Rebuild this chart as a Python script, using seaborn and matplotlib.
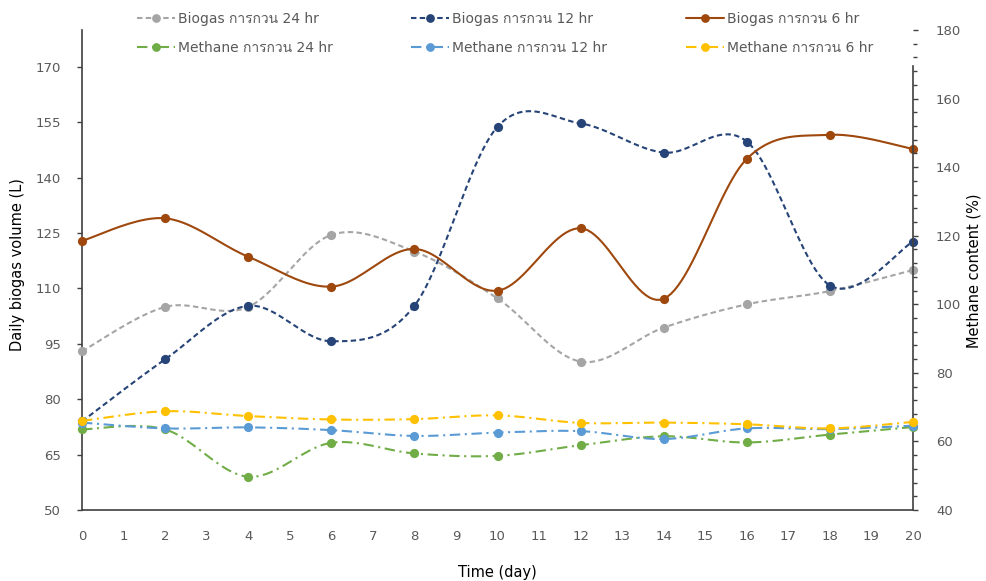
import numpy as np
import matplotlib
matplotlib.use("Agg")
import matplotlib.pyplot as plt
import seaborn as sns
from matplotlib import font_manager
from matplotlib.ft2font import FT2Font
from matplotlib.lines import Line2D
from matplotlib.ticker import MultipleLocator

# ---- data -------------------------------------------------------------
days = [0, 2, 4, 6, 8, 10, 12, 14, 16, 18, 20]

biogas_24 = [93.0, 105.0, 105.0, 124.5, 120.0, 107.3, 90.2, 99.4, 105.7, 109.3, 115.0]
biogas_12 = [74.0, 90.8, 105.3, 95.7, 105.3, 153.8, 154.7, 146.8, 149.8, 110.8, 122.7]
biogas_6 = [122.9, 129.0, 118.6, 110.5, 120.7, 109.4, 126.3, 107.2, 145.1, 151.6, 147.8]

methane_24 = [63.5, 63.5, 49.7, 59.6, 56.5, 55.8, 58.9, 61.5, 59.7, 62.0, 64.2]
methane_12 = [65.5, 63.8, 64.1, 63.3, 61.6, 62.6, 63.0, 60.7, 63.8, 63.6, 64.6]
methane_6 = [66.0, 68.8, 67.4, 66.4, 66.5, 67.6, 65.4, 65.5, 65.0, 63.8, 65.7]

labels_biogas = ["Biogas การกวน 24 hr", "Biogas การกวน 12 hr", "Biogas การกวน 6 hr"]
labels_methane = ["Methane การกวน 24 hr", "Methane การกวน 12 hr", "Methane การกวน 6 hr"]

left_ticks = [50, 65, 80, 95, 110, 125, 140, 155, 170]
x_ticks = list(range(0, 21))


# ---- helpers ------------------------------------------------------------
def families_with(ch):
    """Installed font families that contain a glyph for ch."""
    found = []
    for f in font_manager.fontManager.ttflist:
        try:
            if ord(ch) in FT2Font(f.fname).get_charmap():
                if f.name not in found:
                    found.append(f.name)
        except Exception:
            pass
    return found


def smooth(x, y, n=24):
    """Smoothed Bezier path through the points (Catmull-Rom style tangents)."""
    x = np.asarray(x, float)
    y = np.asarray(y, float)
    px = np.concatenate([[x[0]], x, [x[-1]]])
    py = np.concatenate([[y[0]], y, [y[-1]]])
    t = np.linspace(0.0, 1.0, n)
    xs, ys = [], []
    for i in range(len(x) - 1):
        j = i + 1
        x0, y0 = px[j], py[j]
        x3, y3 = px[j + 1], py[j + 1]
        x1 = x0 + (px[j + 1] - px[j - 1]) / 6.0
        y1 = y0 + (py[j + 1] - py[j - 1]) / 6.0
        x2 = x3 - (px[j + 2] - px[j]) / 6.0
        y2 = y3 - (py[j + 2] - py[j]) / 6.0
        b0, b1, b2, b3 = (1 - t) ** 3, 3 * (1 - t) ** 2 * t, 3 * (1 - t) * t ** 2, t ** 3
        seg_x = b0 * x0 + b1 * x1 + b2 * x2 + b3 * x3
        seg_y = b0 * y0 + b1 * y1 + b2 * y2 + b3 * y3
        if i > 0:
            seg_x, seg_y = seg_x[1:], seg_y[1:]
        xs.append(seg_x)
        ys.append(seg_y)
    return np.concatenate(xs), np.concatenate(ys)


# ---- style -------------------------------------------------------------
sns.set_style("white")
thai_fams = [f for f in families_with("ก") if f != "DejaVu Sans"]
plt.rcParams["font.family"] = ["DejaVu Sans"] + thai_fams[:1]

W, H = 987, 581
fig = plt.figure(figsize=(W / 100, H / 100), dpi=100)
fig.patch.set_facecolor("white")
ax = fig.add_axes([82 / W, 1 - 510 / H, 831 / W, 480 / H])
ax2 = ax.twinx()

lw = 1.5
dash_short = (0, (2.6, 1.6))
dash_dot = (0, (5.0, 2.2, 1.0, 2.2))

series = [
    (labels_biogas[0], biogas_24, ax, "#A5A5A5", dash_short),
    (labels_biogas[1], biogas_12, ax, "#264478", dash_short),
    (labels_biogas[2], biogas_6, ax, "#9E480E", "-"),
    (labels_methane[0], methane_24, ax2, "#70AD47", dash_dot),
    (labels_methane[1], methane_12, ax2, "#5B9BD5", dash_dot),
    (labels_methane[2], methane_6, ax2, "#FFC000", dash_dot),
]

handles = {}
for label, vals, axis, color, ls in series:
    cx, cy = smooth(days, vals)
    sns.lineplot(x=cx, y=cy, ax=axis, color=color, linewidth=lw, linestyle=ls,
                 sort=False, estimator=None, clip_on=False, zorder=2)
    sns.scatterplot(x=days, y=vals, ax=axis, color=color, s=44, linewidth=0,
                    clip_on=False, zorder=3)
    handles[label] = Line2D([], [], color=color, linewidth=lw, linestyle=ls,
                            marker="o", markersize=6.3, markeredgewidth=0)

# ---- axes --------------------------------------------------------------
spine_col = "#404040"
tick_col = "#595959"

ax.set_xlim(0, 20)
ax.set_ylim(50, 180)
ax.set_xticks(x_ticks)
ax.set_yticks(left_ticks)
ax2.set_ylim(40, 180)
ax2.yaxis.set_major_locator(MultipleLocator(20))
ax2.yaxis.set_minor_locator(MultipleLocator(4))

for s in ["top", "right"]:
    ax.spines[s].set_visible(False)
for s in ["top", "left", "bottom"]:
    ax2.spines[s].set_visible(False)
for sp in [ax.spines["left"], ax.spines["bottom"], ax2.spines["right"]]:
    sp.set_color(spine_col)
    sp.set_linewidth(1.2)
ax2.spines["right"].set_bounds(40, 169.5)

ax.tick_params(axis="y", direction="out", length=3.6, width=1.0, color=spine_col,
               labelcolor=tick_col, labelsize=9.5, pad=11.5)
ax.tick_params(axis="x", direction="out", length=3.6, width=1.0, color=spine_col,
               labelcolor=tick_col, labelsize=9.5, pad=11)
ax2.tick_params(axis="y", which="major", direction="out", length=3.6, width=1.0,
                color=spine_col, labelcolor=tick_col, labelsize=9.5, pad=13)
ax2.tick_params(axis="y", which="minor", direction="out", length=3.0, width=1.0,
                color=spine_col)

ax.set_xlabel("Time (day)", fontsize=10.5, color="black")
ax.set_ylabel("Daily biogas volume (L)", fontsize=10.5, color="black")
ax2.set_ylabel("Methane content (%)", fontsize=10.5, color="black")
ax.xaxis.set_label_coords((497 - 82) / 831, (510 - 565) / 480)
ax.yaxis.set_label_coords((25 - 82) / 831, (510 - 265) / 480)
ax2.yaxis.set_label_coords((967 - 82) / 831, (510 - 271) / 480)

ax.set_facecolor("none")
ax2.set_facecolor("none")

# ---- legend (three columns, two rows) ---------------------------------
col_x = [137, 411, 686]
row_y = [19, 48]
for ci in range(3):
    for ri, lab in enumerate([labels_biogas[ci], labels_methane[ci]]):
        fig.legend(handles=[handles[lab]], labels=[lab], loc="center left",
                   bbox_to_anchor=(col_x[ci] / W, 1 - row_y[ri] / H),
                   frameon=False, fontsize=10, handlelength=2.75,
                   handletextpad=0.2, borderpad=0, borderaxespad=0,
                   labelcolor="#595959")

fig.savefig("out.png", dpi=100, facecolor="white")
